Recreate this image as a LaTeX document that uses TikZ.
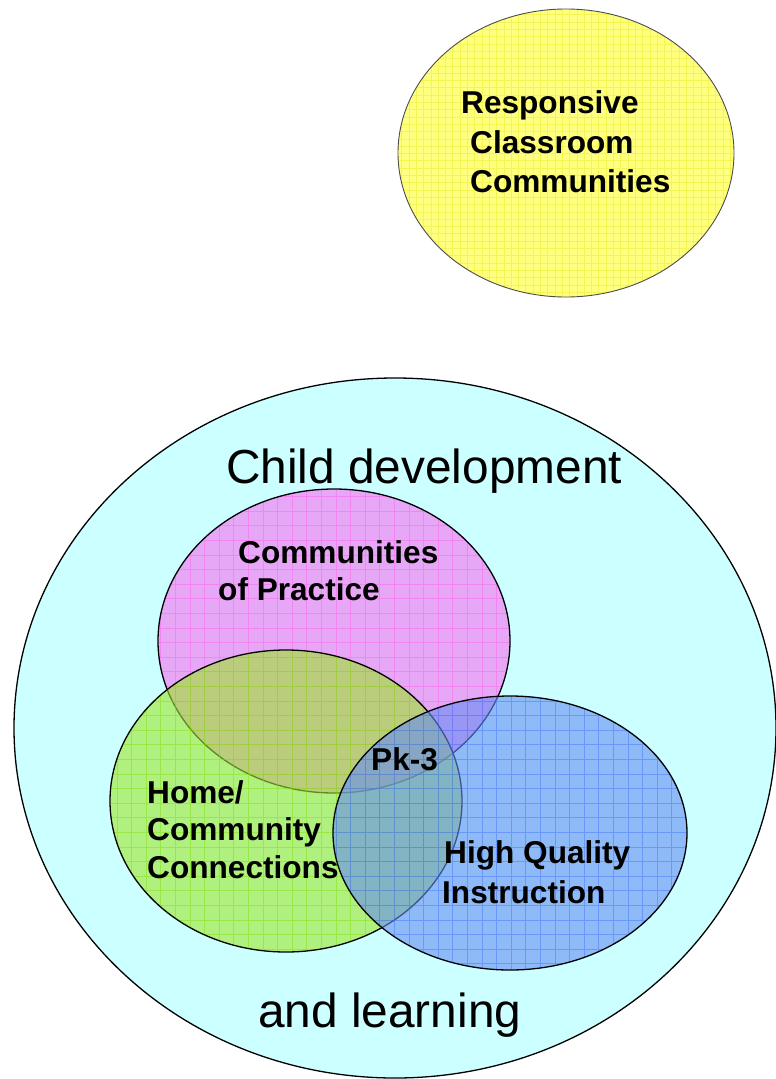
\documentclass[tikz,border=0pt]{standalone}
\usepackage{fontspec}
\setmainfont{Liberation Sans}
\definecolor{cyanbg}{HTML}{CCFFFF}
\definecolor{magfill}{HTML}{E6A8F6}
\definecolor{maggrid}{HTML}{FF6AF0}
\definecolor{grnfill}{HTML}{9DE62B}
\definecolor{grngrid}{HTML}{80E000}
\definecolor{blufill}{HTML}{668CF3}
\definecolor{blugrid}{HTML}{3366FF}
\definecolor{yelfill}{HTML}{FFFF80}
\definecolor{yelgrid}{HTML}{F0F040}
\tikzset{
  lbl/.style={anchor=base west, inner sep=0pt, font=\bfseries\fontsize{31.6}{37}\selectfont},
  biglbl/.style={anchor=base west, inner sep=0pt, font=\fontsize{47.8}{57}\selectfont},
  outline/.style={draw=black, line width=1.3pt},
  gridlines/.style={line width=0.45pt, xstep=14.6pt, ystep=14.6pt}
}
\begin{document}
\begin{tikzpicture}[x=1pt,y=-1pt]
\useasboundingbox (0,0) rectangle (776,1079);
% yellow
\fill[yelfill] (566,153) ellipse [x radius=168pt, y radius=144pt];
\begin{scope}
  \clip (566,153) ellipse [x radius=168pt, y radius=144pt];
  \draw[yelgrid, line width=0.4pt, xstep=7.3pt, ystep=7.3pt, draw opacity=0.7] (380,0) grid (776,310);
\end{scope}
\draw[draw=black!70, line width=0.9pt] (566,153) ellipse [x radius=168pt, y radius=144pt];
% big circle
\filldraw[fill=cyanbg, outline] (395,728) ellipse [x radius=381pt, y radius=350pt];
% magenta
\fill[magfill] (334,641) ellipse [x radius=176pt, y radius=152pt];
\begin{scope}
  \clip (334,641) ellipse [x radius=176pt, y radius=152pt];
  \draw[maggrid, gridlines, draw opacity=0.55] (0,0) grid (776,1079);
\end{scope}
\draw[outline] (334,641) ellipse [x radius=176pt, y radius=152pt];
% green
\fill[grnfill, fill opacity=0.6] (286,801) ellipse [x radius=176pt, y radius=151pt];
\begin{scope}
  \clip (286,801) ellipse [x radius=176pt, y radius=151pt];
  \draw[grngrid, gridlines, draw opacity=0.45] (0,0) grid (776,1079);
\end{scope}
\draw[outline] (286,801) ellipse [x radius=176pt, y radius=151pt];
% blue
\fill[blufill, fill opacity=0.6] (510,833) ellipse [x radius=177pt, y radius=137pt];
\begin{scope}
  \clip (510,833) ellipse [x radius=177pt, y radius=137pt];
  \draw[blugrid, gridlines, draw opacity=0.4] (0,0) grid (776,1079);
\end{scope}
\draw[outline] (510,833) ellipse [x radius=177pt, y radius=137pt];
% texts
\node[lbl] (r1) at (461,113) {Responsive};
\node[lbl] (r2) at (470,153) {Classroom};
\node[lbl] (r3) at (470,192) {Communities};
\node[biglbl] (cd) at (226,483) {Child development};
\node[lbl] (c1) at (238,563) {Communities};
\node[lbl] (c2) at (218,600) {of Practice};
\node[lbl] (h1) at (147,803) {Home/};
\node[lbl] (h2) at (147,840) {Community};
\node[lbl] (h3) at (147,878) {Connections};
\node[lbl] (pk) at (371,770) {Pk-3};
\node[lbl] (q1) at (444,863) {High Quality};
\node[lbl] (q2) at (442,903) {Instruction};
\node[biglbl] (al) at (258,1027) {and learning};
\end{tikzpicture}
\end{document}
